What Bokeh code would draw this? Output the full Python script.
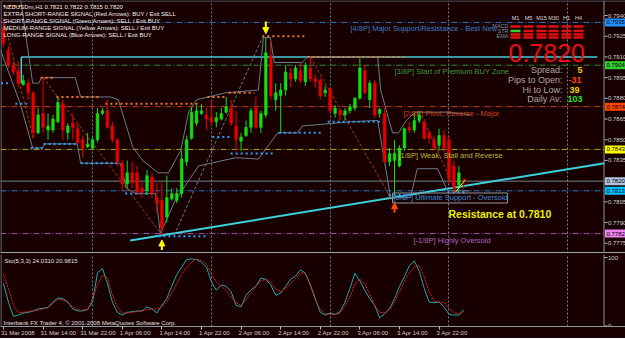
import numpy as np
from bokeh.plotting import figure
from bokeh.layouts import column
from bokeh.models import (Range1d, FixedTicker, Span, ColumnDataSource, Grid,
                          Arrow, NormalHead)
from bokeh.embed import file_html
from bokeh.resources import INLINE
from bokeh.core.properties import value

# ------------------------------------------------------------------ data
symbol = "NZDUSDm,H1"
opens = [0.7931, 0.7915, 0.7904, 0.7900, 0.7890, 0.7891, 0.7884, 0.7855, 0.7869, 0.7857,
         0.7857, 0.7863, 0.7876, 0.7855, 0.7862, 0.7858, 0.7850, 0.7845, 0.7844, 0.7850,
         0.7869, 0.7871, 0.7860, 0.7850, 0.7833, 0.7818, 0.7826, 0.7826, 0.7815, 0.7813,
         0.7823, 0.7808, 0.7806, 0.7794, 0.7807, 0.7806, 0.7811, 0.7834, 0.7851, 0.7862,
         0.7869, 0.7868, 0.7866, 0.7863, 0.7865, 0.7870, 0.7873, 0.7860, 0.7849, 0.7853,
         0.7859, 0.7873, 0.7859, 0.7868, 0.7911, 0.7879, 0.7882, 0.7886, 0.7898, 0.7894,
         0.7900, 0.7892, 0.7902, 0.7894, 0.7893, 0.7884, 0.7887, 0.7869, 0.7871, 0.7868,
         0.7871, 0.7873, 0.7880, 0.7900, 0.7879, 0.7891, 0.7869, 0.7869, 0.7834, 0.7835,
         0.7831, 0.7844, 0.7859, 0.7857, 0.7864, 0.7863, 0.7855, 0.7850, 0.7846, 0.7853,
         0.7850, 0.7831, 0.7817, 0.7821]
highs = [0.7938, 0.7918, 0.7907, 0.7907, 0.7897, 0.7894, 0.7885, 0.7873, 0.7895, 0.7869,
         0.7868, 0.7881, 0.7879, 0.7862, 0.7869, 0.7862, 0.7853, 0.7855, 0.7852, 0.7873,
         0.7873, 0.7879, 0.7863, 0.7851, 0.7835, 0.7835, 0.7834, 0.7831, 0.7820, 0.7828,
         0.7826, 0.7819, 0.7819, 0.7824, 0.7815, 0.7815, 0.7842, 0.7853, 0.7873, 0.7875,
         0.7876, 0.7873, 0.7879, 0.7870, 0.7873, 0.7881, 0.7879, 0.7871, 0.7855, 0.7864,
         0.7873, 0.7881, 0.7871, 0.7924, 0.7922, 0.7891, 0.7891, 0.7904, 0.7902, 0.7904,
         0.7906, 0.7906, 0.7910, 0.7897, 0.7895, 0.7889, 0.7888, 0.7875, 0.7873, 0.7873,
         0.7876, 0.7881, 0.7909, 0.7904, 0.7893, 0.7893, 0.7873, 0.7873, 0.7844, 0.7850,
         0.7846, 0.7859, 0.7863, 0.7870, 0.7871, 0.7865, 0.7857, 0.7853, 0.7858, 0.7857,
         0.7853, 0.7835, 0.7831, 0.7822]
lows = [0.7917, 0.7902, 0.7897, 0.7888, 0.7889, 0.7879, 0.7851, 0.7854, 0.7855, 0.7850,
        0.7855, 0.7862, 0.7850, 0.7850, 0.7850, 0.7847, 0.7837, 0.7844, 0.7843, 0.7848,
        0.7868, 0.7858, 0.7848, 0.7831, 0.7813, 0.7815, 0.7815, 0.7810, 0.7808, 0.7810,
        0.7808, 0.7797, 0.7781, 0.7790, 0.7806, 0.7804, 0.7808, 0.7831, 0.7850, 0.7860,
        0.7868, 0.7857, 0.7860, 0.7859, 0.7864, 0.7869, 0.7860, 0.7842, 0.7842, 0.7852,
        0.7855, 0.7858, 0.7855, 0.7866, 0.7879, 0.7871, 0.7855, 0.7882, 0.7888, 0.7892,
        0.7891, 0.7889, 0.7892, 0.7888, 0.7879, 0.7881, 0.7869, 0.7866, 0.7864, 0.7864,
        0.7869, 0.7871, 0.7879, 0.7883, 0.7873, 0.7866, 0.7866, 0.7833, 0.7831, 0.7808,
        0.7830, 0.7842, 0.7855, 0.7855, 0.7862, 0.7850, 0.7847, 0.7842, 0.7842, 0.7841,
        0.7818, 0.7812, 0.7813, 0.7815]
closes = [0.7920, 0.7904, 0.7899, 0.7891, 0.7893, 0.7884, 0.7855, 0.7868, 0.7859, 0.7860,
          0.7865, 0.7877, 0.7857, 0.7860, 0.7859, 0.7848, 0.7844, 0.7847, 0.7850, 0.7869,
          0.7871, 0.7859, 0.7850, 0.7834, 0.7818, 0.7826, 0.7819, 0.7812, 0.7812, 0.7824,
          0.7811, 0.7804, 0.7786, 0.7808, 0.7811, 0.7811, 0.7836, 0.7850, 0.7870, 0.7871,
          0.7871, 0.7865, 0.7863, 0.7866, 0.7869, 0.7874, 0.7862, 0.7850, 0.7852, 0.7859,
          0.7871, 0.7859, 0.7869, 0.7913, 0.7882, 0.7884, 0.7886, 0.7899, 0.7894, 0.7902,
          0.7893, 0.7904, 0.7894, 0.7892, 0.7882, 0.7886, 0.7871, 0.7873, 0.7868, 0.7871,
          0.7874, 0.7880, 0.7902, 0.7884, 0.7891, 0.7868, 0.7872, 0.7834, 0.7840, 0.7840,
          0.7844, 0.7858, 0.7857, 0.7864, 0.7868, 0.7851, 0.7851, 0.7844, 0.7853, 0.7844,
          0.7822, 0.7815, 0.7826, 0.7820]

stoch_k = [62, 35, 14, 16, 19, 20, 22, 25, 26, 27, 35, 41, 40, 35, 25, 22, 22, 24, 35, 78,
           84, 62, 35, 20, 16, 20, 21, 22, 22, 28, 25, 19, 30, 40, 58, 75, 86, 97, 98, 97,
           93, 86, 65, 52, 60, 58, 50, 30, 28, 45, 53, 58, 70, 68, 60, 45, 48, 58, 68, 73,
           82, 77, 60, 40, 20, 16, 19, 17, 21, 35, 55, 77, 66, 52, 40, 30, 12, 18, 25, 40,
           58, 72, 88, 95, 80, 55, 35, 34, 35, 28, 17, 16, 16, 24.031]
stoch_d = [76, 55, 30, 20, 20, 21, 22, 23, 25, 27, 33, 39, 38, 34, 28, 24, 23, 24, 40, 60,
           74, 70, 45, 28, 19, 19, 20, 21, 22, 24, 25, 25, 28, 35, 48, 62, 75, 86, 93, 98,
           96, 90, 76, 64, 58, 52, 42, 34, 30, 38, 48, 58, 66, 68, 64, 54, 50, 55, 62, 69,
           78, 76, 60, 38, 24, 18, 17, 17, 19, 30, 42, 62, 68, 62, 46, 30, 20, 19, 24, 35,
           50, 65, 78, 86, 88, 72, 50, 36, 35, 34, 26, 20, 17, 20.9815]

time_tick_bars = [0, 8, 16, 24, 32, 40, 48, 56, 64, 72, 80, 88]
time_tick_labels = ["31 Mar 2008", "31 Mar 14:00", "31 Mar 22:00", "1 Apr 06:00", "1 Apr 14:00",
                    "1 Apr 22:00", "2 Apr 06:00", "2 Apr 14:00", "2 Apr 22:00", "3 Apr 06:00",
                    "3 Apr 14:00", "3 Apr 22:00"]
day_grid_bars = [18, 42, 66, 90, 114]
price_ticks = [0.7775, 0.7790, 0.7805, 0.7820, 0.7835, 0.7850, 0.7865, 0.7880, 0.7895,
               0.7910, 0.7925, 0.7940]
stoch_ticks = [0, 100]

murrey_levels = [0.7935, 0.7904, 0.7874, 0.7843, 0.7813, 0.7782]
murrey_names = ["[4/8P] Major Support/Resistance - Best New", "[3/8P] Start of Premium BUY Zone",
                "[2/8P] Pivot, Reverse - Major", "[1/8P] Weak, Stall and Reverse",
                "[0/8P] Ultimate Support - Oversold", "[-1/8P] Highly Oversold"]
bid_price = 0.7820

# fractal resistance (orange dots) and support (blue dots): start bar, end bar, level
res_start = [0, 7.5, 10.7, 20.6, 41.2, 45.5, 52.3, 61.4]
res_end = [3.4, 10, 19.6, 39.8, 45, 50.7, 61, 81.6]
res_level = [0.7947, 0.7895, 0.7881, 0.7876, 0.7881, 0.7884, 0.7925, 0.7910]
sup_start = [-0.5, 2.4, 5.5, 8.1, 15.6, 24.6, 31.3, 42.2, 45.9, 55.6, 65.5, 77.8, 89.7]
sup_end = [1, 4.8, 7.9, 15, 23.6, 30.7, 41.4, 45.9, 54.5, 64.6, 77.6, 82.6, 93.7]
sup_level = [0.7891, 0.7876, 0.7844, 0.7847, 0.7833, 0.7811, 0.7780, 0.7852, 0.7840, 0.7855,
             0.7863, 0.7810, 0.7812]

upper_ch_bar = [3.5, 5.9, 7.1, 7.7, 14.5, 15.6, 21.6, 23.2, 26.1, 28.1, 31.3, 33.3, 35.8, 37.4,
                39, 41.4, 44.8, 51.5, 52.5, 53.9, 54.7, 60.4, 61.4, 75.6, 76.2, 78.6, 79.8, 81.4,
                83.2, 89.7, 94.3]
upper_ch_price = [0.7951, 0.7891, 0.7891, 0.7895, 0.7895, 0.7881, 0.7881, 0.7879, 0.7845,
                  0.7835, 0.7826, 0.7826, 0.7842, 0.7870, 0.7879, 0.7881, 0.7884, 0.7886,
                  0.7924, 0.7924, 0.7906, 0.7906, 0.7910, 0.7910, 0.7886, 0.7855, 0.7855,
                  0.7864, 0.7870, 0.7870, 0.7868]
lower_ch_bar = [-0.6, 3.4, 5.9, 7.9, 8.3, 14.9, 15.6, 23.6, 24.8, 26.7, 30.7, 31.7, 34.7, 39.4,
                46.9, 51.5, 55.4, 59.4, 60.4, 70.1, 75.6, 78.2, 82.2, 83.6, 87.7, 89.7, 94.3]
lower_ch_price = [0.7915, 0.7876, 0.7844, 0.7844, 0.7847, 0.7847, 0.7833, 0.7833, 0.7815,
                  0.7811, 0.7811, 0.7782, 0.7806, 0.7831, 0.7837, 0.7836, 0.7855, 0.7855,
                  0.7860, 0.7863, 0.7864, 0.7808, 0.7808, 0.7829, 0.7829, 0.7813, 0.7813]

zig_bar0 = [0, 8, 62, 85.2]
zig_price0 = [0.7938, 0.7895, 0.7910, 0.7862]
zig_bar1 = [6, 32, 78.2, 91.3]
zig_price1 = [0.7851, 0.7781, 0.7808, 0.7813]
fan_bar = [34.5, 52.3]
fan_price = [0.7781, 0.7924]

trend_bar = [25.6, 121.4]
trend_price = [0.7777, 0.7833]
box_bar = [3.6, 120.0]
box_top = 0.7910
box_bottom = 0.7891
medium_bar = [91.3, 93.3]
medium_price = [0.7812, 0.7821]

up_arrow_bar = [32, 79]
up_arrow_color = ["#ffff00", "#ff4500"]
down_arrow_bar = [53]

spread = 5
pips_to_open = -31
hi_to_low = 39
daily_av = 103
last_price = 0.7820
tf_labels = ["M1", "M5", "M15", "M30", "H1", "H4"]
tf_row_names = ["MACD", "STR", "EMA"]
tf_rows = [["dn", "dn", "dn", "dn", "dn", "dn"],
           ["up", "dn", "dn", "dn", "dn", "dn"],
           ["dn", "dn", "dn", "dn", "dn", "dn"],
           ["dn", "dn", "dn", "dn", "dn", "dn"]]
stoch_title = "Sto(5,3,3) 24.0310 20.9815"

# ------------------------------------------------------------------ layout helpers
BG = "#180000"
FONT = value("Liberation Sans")
BAR_PX = 4.95
X0 = -0.6
CHART_W = 603          # price area; the price scale is drawn to its right
FULL_W = 625
FRAME_H = 253
Y_TOP = 0.79509
PPX = 0.00007246
Y_BOT = Y_TOP - FRAME_H * PPX
AXIS_C = "#8a96a2"
LBL_C = "#d0d0d0"


def X(px):
    return X0 + px / BAR_PX


def Y(py):
    return Y_TOP - py * PPX


AW = {"1": .556, " ": .278, ":": .278, "M": .833, "a": .556, "r": .333, "A": .667, "p": .556}


def half_label_bars(s, size=6):
    return sum(AW.get(ch, .556) for ch in s) * size / 2 / BAR_PX


def price_scale(fig, ticks, labels):
    """vertical scale on the right of the chart area"""
    fig.add_layout(Span(location=X(CHART_W + 0.5), dimension="height", line_color=AXIS_C,
                        line_width=1))
    fig.segment(x0=[X(CHART_W + 1)] * len(ticks), y0=ticks, x1=[X(CHART_W + 4)] * len(ticks),
                y1=ticks, line_color="#c0c0c0", line_width=1)
    fig.text(x=[X(CHART_W + 4.5)] * len(ticks), y=ticks, text=labels, text_color=LBL_C,
             text_font=FONT, text_font_size="6px", text_baseline="middle")


p = figure(frame_width=FULL_W, frame_height=FRAME_H, x_range=Range1d(X0, X(FULL_W)),
           y_range=Range1d(Y_BOT, Y_TOP), output_backend="svg", toolbar_location=None,
           x_axis_location=None, y_axis_location=None,
           min_border_left=0, min_border_top=0, min_border_bottom=0, min_border_right=0)
p.background_fill_color = BG
p.border_fill_color = BG
p.outline_line_color = None
p.xgrid.visible = False
p.ygrid.visible = False
p.add_layout(Grid(dimension=0, ticker=FixedTicker(ticks=day_grid_bars), grid_line_color="#6a7f8f",
                  grid_line_dash="2 2", grid_line_width=1))
p.add_layout(Span(location=X(0.5), dimension="height", line_color="#7d8a96", line_width=1))
p.add_layout(Span(location=Y(0.5), dimension="width", line_color="#5d6a76", line_width=1))
p.add_layout(Span(location=Y(252.5), dimension="width", line_color="#9aa6b2", line_width=2))

# Murrey math lines
murrey_line_colors = ["#2a78c8", "#2e8b3e", "#c83c14", "#a8a820", "#2a78c8", "#a050b0"]
murrey_text_colors = ["#3a7cc8", "#3c9c3c", "#c8481e", "#b8b830", "#3a8ad0", "#b060c0"]
murrey_text_px = [350, 394, 403, 398, 393, 413]
p.segment(x0=[X0] * 6, y0=murrey_levels, x1=[X(CHART_W)] * 6, y1=murrey_levels,
          line_color=murrey_line_colors, line_dash="6 2 1 2", line_width=1)
p.segment(x0=[X0], y0=[bid_price], x1=[X(CHART_W)], y1=[bid_price], line_color="#6f8294",
          line_width=1)

# user trend lines (cyan)
p.line(trend_bar, trend_price, line_color="#3cd2dc", line_width=2)
p.line(box_bar, [box_top, box_top], line_color="#48c8d8", line_width=1.5)
p.line([box_bar[0], box_bar[0]], [box_top, box_bottom], line_color="#48c8d8", line_width=1.5)

# channel lines
p.line(upper_ch_bar, upper_ch_price, line_color="#6a7c88", line_width=1)
p.line(lower_ch_bar, lower_ch_price, line_color="#6a7c88", line_width=1)

# zigzag dashed
p.segment(x0=zig_bar0, y0=zig_price0, x1=zig_bar1, y1=zig_price1, line_color="#a83c10",
          line_dash="3 2", line_width=1)
p.line(fan_bar, fan_price, line_color="#6a7c88", line_dash="3 2", line_width=1)

# fractal dotted levels
p.segment(x0=res_start, y0=res_level, x1=res_end, y1=res_level, line_color="#f07828",
          line_width=2, line_dash="2 3")
p.segment(x0=sup_start, y0=sup_level, x1=sup_end, y1=sup_level, line_color="#2aa0ff",
          line_width=2, line_dash="2 3")

# candles
n = len(opens)
bars = list(range(n))
up = [c >= o for o, c in zip(opens, closes)]
colors = ["#10e010" if u else "#e80000" for u in up]
src = ColumnDataSource(dict(x=bars, o=opens, h=highs, l=lows, c=closes, col=colors,
                            top=[max(o, c) for o, c in zip(opens, closes)],
                            bot=[min(o, c) for o, c in zip(opens, closes)]))
p.segment(x0="x", y0="l", x1="x", y1="h", line_color="col", line_width=1, source=src)
p.vbar(x="x", width=0.55, top="top", bottom="bot", fill_color="col", line_color="col",
       line_width=0.5, source=src)

# medium-range yellow signal line
p.line(medium_bar, medium_price, line_color="#f0f000", line_width=1)

# arrows
for b, c in zip(up_arrow_bar, up_arrow_color):
    p.add_layout(Arrow(end=NormalHead(size=6, fill_color=c, line_color=c), x_start=b,
                       y_start=lows[b] - 15 * PPX, x_end=b, y_end=lows[b] - 5 * PPX,
                       line_color=c, line_width=2))
for b in down_arrow_bar:
    p.add_layout(Arrow(end=NormalHead(size=6, fill_color="#ffff00", line_color="#ffff00"),
                       x_start=b, y_start=highs[b] + 16 * PPX, x_end=b,
                       y_end=highs[b] + 4 * PPX, line_color="#ffff00", line_width=2))

# murrey labels (the 0/8 label is boxed in the source chart)
p.rect(x=[X(449.5)], y=[Y(197.5)], width=115 / BAR_PX, height=10 * PPX, fill_color=None,
       line_color="#8c96a0", line_width=1)
p.text(x=[X(v) for v in murrey_text_px], y=murrey_levels, text=murrey_names,
       text_color=murrey_text_colors, text_font=FONT, text_font_size="7.5px",
       text_baseline="top", y_offset=2)

# header texts
header = [f"{symbol}  {opens[-1]:.4f} {highs[-1]:.4f} {lows[-1]:.4f} {closes[-1]:.4f}",
          "EXTRA SHORT-RANGE SIGNAL (Red Arrows): BUY / Exit SELL",
          "SHORT-RANGE SIGNAL (Green Arrows): SELL / Exit BUY",
          "MEDIUM-RANGE SIGNAL (Yellow Arrows): SELL / Exit BUY",
          "LONG-RANGE SIGNAL (Blue Arrows): SELL / Exit BUY"]
p.text(x=[X(3)] * 5, y=[Y(v) for v in [6, 13, 20, 27, 34]], text=header,
       text_color="#f0f0f0", text_font=FONT, text_font_size="6px", text_baseline="middle")

p.text(x=[X(448)], y=[Y(213)], text=["Resistance at 0.7810"], text_color="#f0f000",
       text_font=FONT, text_font_size="10.5px", text_font_style="bold", text_baseline="middle")

# info panel
tf_x = [515, 528, 541, 553, 566, 578]
p.text(x=[X(v) for v in tf_x], y=[Y(17)] * 6, text=tf_labels, text_color="#d8d8d8",
       text_font=FONT, text_font_size="5.5px", text_align="center", text_baseline="middle")
p.text(x=[X(508)] * 3, y=[Y(v) for v in [25, 30, 35]], text=tf_row_names, text_color="#7a90a8",
       text_font=FONT, text_font_size="5.5px", text_align="right", text_baseline="middle")
cx, cy, cc = [], [], []
for r, row in enumerate(tf_rows):
    for k, s in enumerate(row):
        cx.append(X(tf_x[k]))
        cy.append(Y([26, 30.5, 34, 37][r]))
        cc.append("#30d030" if s == "up" else "#e01010")
p.rect(x=cx, y=cy, width=10 / BAR_PX, height=2.5 * PPX, fill_color=cc, line_color=None)
p.text(x=[X(508)], y=[Y(52)], text=[f"{last_price:.4f}"], text_color="#e81010",
       text_font=FONT, text_font_size="25px", text_baseline="middle")
p.text(x=[X(562)] * 4, y=[Y(v) for v in [69, 79, 89, 98]],
       text=["Spread:", "Pips to Open:", "Hi to Low:", "Daily Av:"], text_color="#a8a8a8",
       text_font=FONT, text_font_size="9px", text_align="right", text_baseline="middle")
p.text(x=[X(577), X(568), X(569), X(567)], y=[Y(v) for v in [69, 79, 89, 98]],
       text=[str(spread), str(pips_to_open), str(hi_to_low), str(daily_av)],
       text_color=["#f0d000", "#ff4020", "#f0d000", "#30e030"], text_font=FONT,
       text_font_size="9px", text_font_style="bold", text_baseline="middle")

# price scale with coloured level labels
price_scale(p, price_ticks, [f"{t:.4f}" for t in price_ticks])
axis_box_prices = murrey_levels + [bid_price]
axis_box_colors = ["#1e90ff", "#32cd32", "#ff4500", "#ffff00", "#00bfff", "#ee82ee", "#b0c4de"]
p.rect(x=[X(614.5)] * 7, y=axis_box_prices, width=20 / BAR_PX, height=8 * PPX,
       fill_color=axis_box_colors, line_color=None)
p.text(x=[X(606)] * 7, y=axis_box_prices, text=[f"{v:.4f}" for v in axis_box_prices],
       text_color="#000000", text_font=FONT, text_font_size="6px", text_baseline="middle")

# ------------------------------------------------------------------ stochastic panel
S_H = 72
S_TOP = 104.4
S_BOT = -0.7
q = figure(frame_width=FULL_W, frame_height=S_H, x_range=p.x_range,
           y_range=Range1d(S_BOT, S_TOP), output_backend="svg", toolbar_location=None,
           y_axis_location=None, min_border_left=0, min_border_top=1,
           min_border_bottom=0, min_border_right=0)
q.background_fill_color = BG
q.border_fill_color = BG
q.outline_line_color = None
q.xgrid.visible = False
q.ygrid.visible = False
q.add_layout(Grid(dimension=0, ticker=FixedTicker(ticks=day_grid_bars), grid_line_color="#6a7f8f",
                  grid_line_dash="2 2", grid_line_width=1))
q.add_layout(Span(location=X(0.5), dimension="height", line_color="#7d8a96", line_width=1))
q.line(bars, stoch_k, line_color="#1ea8b0", line_width=1)
q.line(bars, stoch_d, line_color="#e82020", line_width=1, line_dash="2 1")
price_scale(q, stoch_ticks, [str(t) for t in stoch_ticks])

# labels are centred by the axis, so place each tick at the centre of its label
label_centres = [b + half_label_bars(t) - 0.5 for b, t in zip(time_tick_bars, time_tick_labels)]
xa = q.xaxis[0]
xa.ticker = FixedTicker(ticks=label_centres, minor_ticks=time_tick_bars)
xa.major_label_overrides = {c: t for c, t in zip(label_centres, time_tick_labels)}
xa.axis_line_color = AXIS_C
xa.major_tick_line_color = None
xa.minor_tick_line_color = "#c0c0c0"
xa.major_tick_in = 0
xa.major_tick_out = 3
xa.minor_tick_in = 0
xa.minor_tick_out = 3
xa.major_label_standoff = 0
xa.major_label_text_font = "Liberation Sans"
xa.major_label_text_font_size = "6px"
xa.major_label_text_color = LBL_C


def SY(py):
    return S_TOP - (py - 254) * (S_TOP - S_BOT) / S_H


q.text(x=[X(4)], y=[SY(260)], text=[stoch_title], text_color="#e0e0e0", text_font=FONT,
       text_font_size="6px", text_baseline="middle")
q.text(x=[X(3)], y=[SY(322)], text=["Interbank FX Trader 4, © 2001-2008 MetaQuotes Software Corp."],
       text_color="#e0e0e0", text_font=FONT, text_font_size="6px", text_baseline="middle")

layout = column(p, q, spacing=0, styles={"background-color": BG})
open("out.html", "w").write(file_html(layout, INLINE))
